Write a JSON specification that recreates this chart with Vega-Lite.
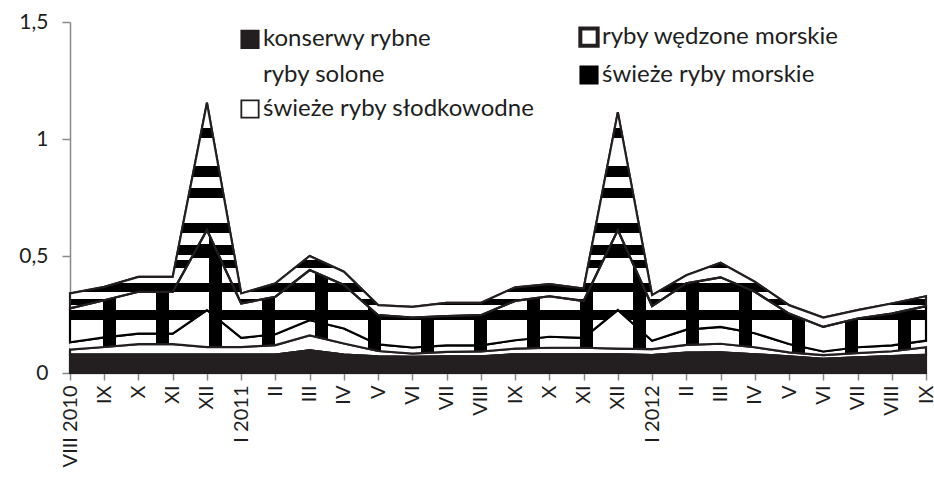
{
  "$schema": "https://vega.github.io/schema/vega-lite/v6.json",
  "width": 856,
  "height": 351,
  "autosize": {"type": "none"},
  "padding": {"left": 70, "top": 22, "right": 8, "bottom": 111},
  "background": "white",
  "config": {
    "view": {"stroke": null},
    "font": "Lato",
    "axis": {"labelFont": "Lato", "labelColor": "#1e1e1e", "domainColor": "#898989", "tickColor": "#898989", "domainWidth": 1.5, "tickWidth": 1.5, "grid": false, "title": null},
    "legend": {"labelFont": "Lato", "labelColor": "#1e1e1e"}
  },
  "data": {
    "values": [
      {"m": "VIII 2010", "konserwy rybne": 0.079, "ryby wędzone morskie": 0.021, "ryby solone": 0.031, "świeże ryby morskie": 0.145, "świeże ryby słodkowodne": 0.064},
      {"m": "IX 2010", "konserwy rybne": 0.079, "ryby wędzone morskie": 0.032, "ryby solone": 0.041, "świeże ryby morskie": 0.159, "świeże ryby słodkowodne": 0.057},
      {"m": "X 2010", "konserwy rybne": 0.079, "ryby wędzone morskie": 0.044, "ryby solone": 0.045, "świeże ryby morskie": 0.179, "świeże ryby słodkowodne": 0.064},
      {"m": "XI 2010", "konserwy rybne": 0.079, "ryby wędzone morskie": 0.044, "ryby solone": 0.045, "świeże ryby morskie": 0.179, "świeże ryby słodkowodne": 0.064},
      {"m": "XII 2010", "konserwy rybne": 0.079, "ryby wędzone morskie": 0.032, "ryby solone": 0.158, "świeże ryby morskie": 0.342, "świeże ryby słodkowodne": 0.544},
      {"m": "I 2011", "konserwy rybne": 0.079, "ryby wędzone morskie": 0.032, "ryby solone": 0.039, "świeże ryby morskie": 0.147, "świeże ryby słodkowodne": 0.043},
      {"m": "II 2011", "konserwy rybne": 0.079, "ryby wędzone morskie": 0.040, "ryby solone": 0.047, "świeże ryby morskie": 0.160, "świeże ryby słodkowodne": 0.057},
      {"m": "III 2011", "konserwy rybne": 0.097, "ryby wędzone morskie": 0.064, "ryby solone": 0.065, "świeże ryby morskie": 0.214, "świeże ryby słodkowodne": 0.060},
      {"m": "IV 2011", "konserwy rybne": 0.079, "ryby wędzone morskie": 0.047, "ryby solone": 0.064, "świeże ryby morskie": 0.186, "świeże ryby słodkowodne": 0.057},
      {"m": "V 2011", "konserwy rybne": 0.071, "ryby wędzone morskie": 0.023, "ryby solone": 0.028, "świeże ryby morskie": 0.125, "świeże ryby słodkowodne": 0.043},
      {"m": "VI 2011", "konserwy rybne": 0.069, "ryby wędzone morskie": 0.014, "ryby solone": 0.026, "świeże ryby morskie": 0.128, "świeże ryby słodkowodne": 0.046},
      {"m": "VII 2011", "konserwy rybne": 0.071, "ryby wędzone morskie": 0.019, "ryby solone": 0.028, "świeże ryby morskie": 0.125, "świeże ryby słodkowodne": 0.057},
      {"m": "VIII 2011", "konserwy rybne": 0.071, "ryby wędzone morskie": 0.021, "ryby solone": 0.026, "świeże ryby morskie": 0.129, "świeże ryby słodkowodne": 0.053},
      {"m": "IX 2011", "konserwy rybne": 0.080, "ryby wędzone morskie": 0.024, "ryby solone": 0.036, "świeże ryby morskie": 0.168, "świeże ryby słodkowodne": 0.058},
      {"m": "X 2011", "konserwy rybne": 0.080, "ryby wędzone morskie": 0.028, "ryby solone": 0.047, "świeże ryby morskie": 0.173, "świeże ryby słodkowodne": 0.052},
      {"m": "XI 2011", "konserwy rybne": 0.080, "ryby wędzone morskie": 0.028, "ryby solone": 0.042, "świeże ryby morskie": 0.158, "świeże ryby słodkowodne": 0.053},
      {"m": "XII 2011", "konserwy rybne": 0.080, "ryby wędzone morskie": 0.024, "ryby solone": 0.165, "świeże ryby morskie": 0.342, "świeże ryby słodkowodne": 0.504},
      {"m": "I 2012", "konserwy rybne": 0.077, "ryby wędzone morskie": 0.025, "ryby solone": 0.036, "świeże ryby morskie": 0.148, "świeże ryby słodkowodne": 0.047},
      {"m": "II 2012", "konserwy rybne": 0.087, "ryby wędzone morskie": 0.033, "ryby solone": 0.065, "świeże ryby morskie": 0.198, "świeże ryby słodkowodne": 0.035},
      {"m": "III 2012", "konserwy rybne": 0.088, "ryby wędzone morskie": 0.037, "ryby solone": 0.072, "świeże ryby morskie": 0.212, "świeże ryby słodkowodne": 0.062},
      {"m": "IV 2012", "konserwy rybne": 0.080, "ryby wędzone morskie": 0.030, "ryby solone": 0.060, "świeże ryby morskie": 0.177, "świeże ryby słodkowodne": 0.043},
      {"m": "V 2012", "konserwy rybne": 0.071, "ryby wędzone morskie": 0.017, "ryby solone": 0.036, "świeże ryby morskie": 0.130, "świeże ryby słodkowodne": 0.036},
      {"m": "VI 2012", "konserwy rybne": 0.061, "ryby wędzone morskie": 0.015, "ryby solone": 0.016, "świeże ryby morskie": 0.105, "świeże ryby słodkowodne": 0.040},
      {"m": "VII 2012", "konserwy rybne": 0.067, "ryby wędzone morskie": 0.018, "ryby solone": 0.025, "świeże ryby morskie": 0.123, "świeże ryby słodkowodne": 0.036},
      {"m": "VIII 2012", "konserwy rybne": 0.072, "ryby wędzone morskie": 0.021, "ryby solone": 0.025, "świeże ryby morskie": 0.136, "świeże ryby słodkowodne": 0.043},
      {"m": "IX 2012", "konserwy rybne": 0.078, "ryby wędzone morskie": 0.032, "ryby solone": 0.028, "świeże ryby morskie": 0.148, "świeże ryby słodkowodne": 0.042}
    ]
  },
  "transform": [
    {"fold": ["konserwy rybne", "ryby wędzone morskie", "ryby solone", "świeże ryby morskie", "świeże ryby słodkowodne"], "as": ["s", "v"]},
    {"stack": "v", "groupby": ["m"], "as": ["y0", "y1"]}
  ],
  "encoding": {
    "x": {"field": "m", "type": "ordinal", "sort": null, "scale": {"type": "point", "padding": 0},
      "axis": {"labelAngle": -90, "labelFontSize": 20, "labelPadding": 5, "tickSize": 7, "labelOverlap": false,
        "labelExpr": "(substring(datum.label,0,2) == 'I ' || datum.label == 'VIII 2010') ? datum.label : split(datum.label, ' ')[0]"}},
    "y": {"field": "y1", "type": "quantitative", "stack": null, "scale": {"domain": [0, 1.5], "nice": false},
      "axis": {"values": [0, 0.5, 1, 1.5], "format": ".1~f", "labelExpr": "replace(datum.label, '.', ',')", "labelFontSize": 21, "tickSize": 8, "labelPadding": 14}},
    "y2": {"field": "y0"}
  },
  "layer": [
    {
      "mark": {"type": "area", "strokeJoin": "miter", "strokeWidth": 2},
      "encoding": {
        "fill": {"field": "s", "type": "nominal",
          "scale": {"domain": ["konserwy rybne", "ryby solone", "świeże ryby słodkowodne", "ryby wędzone morskie", "świeże ryby morskie"],
                    "range": ["#231f20", "#ffffff", "#ffffff", "#ffffff", "#000000"]},
          "legend": {"title": null, "orient": "none", "legendX": 168, "legendY": 3, "columns": 2, "columnPadding": 37, "rowPadding": 8,
                     "symbolType": "square", "symbolSize": 300, "labelFontSize": 24, "labelOffset": 1, "labelLimit": 400,
                     "encode": {"symbols": {"update": {"strokeWidth": {"signal": "datum.value === 'ryby wędzone morskie' ? 4 : 1.8"}}}}}},
        "stroke": {"field": "s", "type": "nominal",
          "scale": {"domain": ["konserwy rybne", "ryby solone", "świeże ryby słodkowodne", "ryby wędzone morskie", "świeże ryby morskie"],
                    "range": ["#231f20", "rgba(255,255,255,0)", "#231f20", "#231f20", "#000000"]}}
      }
    },
    {
      "transform": [{"filter": "datum.s == 'świeże ryby morskie'"}],
      "mark": {"type": "area", "fill": {"gradient": "linear", "x1": 0, "y1": 0, "x2": 0, "y2": 1, "stops": [
        {"offset": 0, "color": "#ffffff"}, {"offset": 0.1175, "color": "#ffffff"},
        {"offset": 0.1175, "color": "#000000"}, {"offset": 0.2331, "color": "#000000"},
        {"offset": 0.2331, "color": "#ffffff"}, {"offset": 0.4374, "color": "#ffffff"},
        {"offset": 0.4374, "color": "#000000"}, {"offset": 0.5125, "color": "#000000"},
        {"offset": 0.5125, "color": "#ffffff"}, {"offset": 0.6609, "color": "#ffffff"},
        {"offset": 0.6609, "color": "#000000"}, {"offset": 0.7437, "color": "#000000"},
        {"offset": 0.7437, "color": "#ffffff"}, {"offset": 1, "color": "#ffffff"}]}}
    },
    {
      "transform": [{"filter": "datum.s == 'ryby solone' || datum.s == 'świeże ryby morskie'"}],
      "mark": {"type": "area", "fill": {"gradient": "linear", "x1": 0, "y1": 0, "x2": 1, "y2": 0, "stops": [
        {"offset": 0, "color": "rgba(0,0,0,0)"},
        {"offset": 0.03855, "color": "rgba(0,0,0,0)"}, {"offset": 0.03855, "color": "#000000"}, {"offset": 0.05374, "color": "#000000"}, {"offset": 0.05374, "color": "rgba(0,0,0,0)"},
        {"offset": 0.10047, "color": "rgba(0,0,0,0)"}, {"offset": 0.10047, "color": "#000000"}, {"offset": 0.11565, "color": "#000000"}, {"offset": 0.11565, "color": "rgba(0,0,0,0)"},
        {"offset": 0.16238, "color": "rgba(0,0,0,0)"}, {"offset": 0.16238, "color": "#000000"}, {"offset": 0.17757, "color": "#000000"}, {"offset": 0.17757, "color": "rgba(0,0,0,0)"},
        {"offset": 0.22430, "color": "rgba(0,0,0,0)"}, {"offset": 0.22430, "color": "#000000"}, {"offset": 0.23949, "color": "#000000"}, {"offset": 0.23949, "color": "rgba(0,0,0,0)"},
        {"offset": 0.28621, "color": "rgba(0,0,0,0)"}, {"offset": 0.28621, "color": "#000000"}, {"offset": 0.30140, "color": "#000000"}, {"offset": 0.30140, "color": "rgba(0,0,0,0)"},
        {"offset": 0.34813, "color": "rgba(0,0,0,0)"}, {"offset": 0.34813, "color": "#000000"}, {"offset": 0.36332, "color": "#000000"}, {"offset": 0.36332, "color": "rgba(0,0,0,0)"},
        {"offset": 0.41005, "color": "rgba(0,0,0,0)"}, {"offset": 0.41005, "color": "#000000"}, {"offset": 0.42523, "color": "#000000"}, {"offset": 0.42523, "color": "rgba(0,0,0,0)"},
        {"offset": 0.47196, "color": "rgba(0,0,0,0)"}, {"offset": 0.47196, "color": "#000000"}, {"offset": 0.48715, "color": "#000000"}, {"offset": 0.48715, "color": "rgba(0,0,0,0)"},
        {"offset": 0.53388, "color": "rgba(0,0,0,0)"}, {"offset": 0.53388, "color": "#000000"}, {"offset": 0.54907, "color": "#000000"}, {"offset": 0.54907, "color": "rgba(0,0,0,0)"},
        {"offset": 0.59579, "color": "rgba(0,0,0,0)"}, {"offset": 0.59579, "color": "#000000"}, {"offset": 0.61098, "color": "#000000"}, {"offset": 0.61098, "color": "rgba(0,0,0,0)"},
        {"offset": 0.65771, "color": "rgba(0,0,0,0)"}, {"offset": 0.65771, "color": "#000000"}, {"offset": 0.67290, "color": "#000000"}, {"offset": 0.67290, "color": "rgba(0,0,0,0)"},
        {"offset": 0.71963, "color": "rgba(0,0,0,0)"}, {"offset": 0.71963, "color": "#000000"}, {"offset": 0.73481, "color": "#000000"}, {"offset": 0.73481, "color": "rgba(0,0,0,0)"},
        {"offset": 0.78154, "color": "rgba(0,0,0,0)"}, {"offset": 0.78154, "color": "#000000"}, {"offset": 0.79673, "color": "#000000"}, {"offset": 0.79673, "color": "rgba(0,0,0,0)"},
        {"offset": 0.84346, "color": "rgba(0,0,0,0)"}, {"offset": 0.84346, "color": "#000000"}, {"offset": 0.85864, "color": "#000000"}, {"offset": 0.85864, "color": "rgba(0,0,0,0)"},
        {"offset": 0.90537, "color": "rgba(0,0,0,0)"}, {"offset": 0.90537, "color": "#000000"}, {"offset": 0.92056, "color": "#000000"}, {"offset": 0.92056, "color": "rgba(0,0,0,0)"},
        {"offset": 0.96729, "color": "rgba(0,0,0,0)"}, {"offset": 0.96729, "color": "#000000"}, {"offset": 0.98248, "color": "#000000"}, {"offset": 0.98248, "color": "rgba(0,0,0,0)"},
        {"offset": 1, "color": "rgba(0,0,0,0)"}]}},
      "encoding": {"detail": {"field": "s", "type": "nominal"}}
    },
    {
      "transform": [{"filter": "datum.s == 'świeże ryby słodkowodne'"}],
      "mark": {"type": "area", "fill": {"gradient": "linear", "x1": 0, "y1": 0, "x2": 0, "y2": 1, "stops": [
        {"offset": 0, "color": "#ffffff"}, {"offset": 0.1127, "color": "#ffffff"},
        {"offset": 0.1127, "color": "#000000"}, {"offset": 0.1576, "color": "#000000"},
        {"offset": 0.1576, "color": "#ffffff"}, {"offset": 0.2829, "color": "#ffffff"},
        {"offset": 0.2829, "color": "#000000"}, {"offset": 0.3319, "color": "#000000"},
        {"offset": 0.3319, "color": "#ffffff"}, {"offset": 0.3810, "color": "#ffffff"},
        {"offset": 0.3810, "color": "#000000"}, {"offset": 0.4259, "color": "#000000"},
        {"offset": 0.4259, "color": "#ffffff"}, {"offset": 0.5376, "color": "#ffffff"},
        {"offset": 0.5376, "color": "#000000"}, {"offset": 0.5825, "color": "#000000"},
        {"offset": 0.5825, "color": "#ffffff"}, {"offset": 0.6357, "color": "#ffffff"},
        {"offset": 0.6357, "color": "#000000"}, {"offset": 0.6795, "color": "#000000"},
        {"offset": 0.6795, "color": "#ffffff"}, {"offset": 0.7025, "color": "#ffffff"},
        {"offset": 0.7025, "color": "#000000"}, {"offset": 0.7380, "color": "#000000"},
        {"offset": 0.7380, "color": "#ffffff"}, {"offset": 0.8048, "color": "#ffffff"},
        {"offset": 0.8048, "color": "#000000"}, {"offset": 0.8455, "color": "#000000"},
        {"offset": 0.8455, "color": "#ffffff"}, {"offset": 0.8768, "color": "#ffffff"},
        {"offset": 0.8768, "color": "#000000"}, {"offset": 0.9029, "color": "#000000"},
        {"offset": 0.9029, "color": "#ffffff"}, {"offset": 1, "color": "#ffffff"}]}}
    },
    {
      "mark": {"type": "area", "fill": "transparent", "strokeWidth": 2.2, "strokeJoin": "miter"},
      "encoding": {
        "stroke": {"field": "s", "type": "nominal"}
      }
    }
  ]
}
